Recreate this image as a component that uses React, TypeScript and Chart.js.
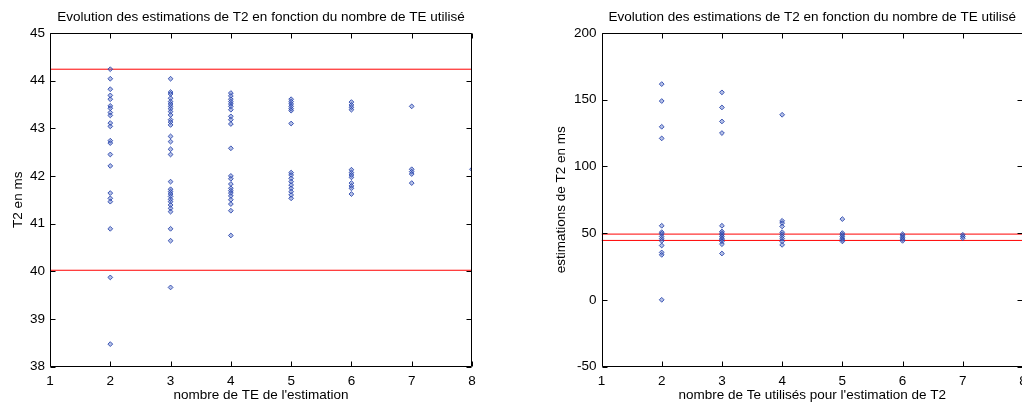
import React, { useEffect, useRef } from "react";
import { Chart, registerables } from "chart.js";

Chart.register(...registerables);

// ---------- DATA ----------
const xTicks = [1, 2, 3, 4, 5, 6, 7, 8];

// Left plot: T2 estimates (ms) per number of TE
const leftTE2 = [44.24, 44.04, 43.82, 43.69, 43.61, 43.47, 43.42, 43.33, 43.27, 43.11, 43.04, 42.74, 42.69, 42.45, 42.21, 41.64, 41.53, 41.46, 40.89, 39.87, 38.47];
const leftTE3 = [44.04, 43.76, 43.72, 43.63, 43.56, 43.51, 43.46, 43.41, 43.35, 43.28, 43.18, 43.13, 43.07, 42.83, 42.72, 42.56, 42.45, 41.88, 41.72, 41.67, 41.62, 41.57, 41.51, 41.46, 41.39, 41.32, 41.25, 40.89, 40.64, 39.66];
const leftTE4 = [43.74, 43.68, 43.61, 43.56, 43.51, 43.46, 43.39, 43.25, 43.18, 43.09, 42.58, 42.0, 41.94, 41.83, 41.74, 41.69, 41.64, 41.58, 41.5, 41.41, 41.27, 40.75];
const leftTE5 = [43.61, 43.56, 43.51, 43.46, 43.41, 43.37, 43.1, 42.07, 42.02, 41.95, 41.88, 41.81, 41.74, 41.67, 41.6, 41.53];
const leftTE6 = [43.55, 43.49, 43.44, 43.39, 42.13, 42.07, 42.02, 41.97, 41.85, 41.79, 41.74, 41.62];
const leftTE7 = [43.46, 42.14, 42.09, 42.04, 41.85];
const leftTE8 = [42.14];
const leftRefLines = [44.24, 40.02];
const leftYTicks = [38, 39, 40, 41, 42, 43, 44, 45];

// Right plot: T2 estimates (ms) per number of Te used
const rightTE2 = [161.7, 149, 129.7, 121, 55.5, 50.7, 49.5, 47.5, 45.8, 44.2, 40.7, 35.5, 33.7, 0];
const rightTE3 = [155.5, 144.2, 133.7, 125, 55.5, 51.2, 50, 48.7, 47.5, 46.2, 45, 43.8, 41.7, 34.7];
const rightTE4 = [138.7, 59.2, 57.5, 55, 50.7, 49.2, 47.5, 45.8, 43.8, 41.2];
const rightTE5 = [60.5, 50, 48.7, 47.5, 46.2, 45, 43.8];
const rightTE6 = [49.2, 48, 46.7, 45.5, 44.2];
const rightTE7 = [48.7, 47.5, 46.2];
const rightRefLines = [49.25, 44.5];
const rightYTicks = [-50, 0, 50, 100, 150, 200];

const plotTitle = "Evolution des estimations de T2 en fonction du nombre de TE utilisé";
const leftXTitle = "nombre de TE de l'estimation";
const leftYTitle = "T2 en ms";
const rightXTitle = "nombre de Te utilisés pour l'estimation de T2";
const rightYTitle = "estimations de T2 en ms";

// ---------- HELPERS ----------
const FONT = '"Liberation Sans", Arial, Helvetica, sans-serif';
const FS = 13.5;

function toPoints(groups: { te: number; values: number[] }[]) {
  const pts: { x: number; y: number }[] = [];
  groups.forEach((g) => g.values.forEach((v) => pts.push({ x: g.te, y: v })));
  return pts;
}

const framePlugin = {
  id: "matlabFrame",
  afterDraw(chart: any, _args: any, opts: any) {
    const { ctx, chartArea, scales } = chart;
    const { left, right, top, bottom } = chartArea;
    const L = Math.round(left) + 0.5;
    const R = Math.round(right) - 0.5;
    const T = Math.round(top) + 0.5;
    const B = Math.round(bottom) - 0.5;
    ctx.save();
    ctx.strokeStyle = "#000";
    ctx.lineWidth = 1;
    ctx.beginPath();
    ctx.rect(L, T, R - L, B - T);
    ctx.stroke();
    const tl = 5;
    ctx.beginPath();
    scales.x.ticks.forEach((t: any) => {
      const px = Math.round(scales.x.getPixelForValue(t.value)) + 0.5;
      ctx.moveTo(px, B);
      ctx.lineTo(px, B - tl);
      ctx.moveTo(px, T);
      ctx.lineTo(px, T + tl);
    });
    scales.y.ticks.forEach((t: any) => {
      const py = Math.round(scales.y.getPixelForValue(t.value)) + 0.5;
      ctx.moveTo(L, py);
      ctx.lineTo(L + tl, py);
      ctx.moveTo(R, py);
      ctx.lineTo(R - tl, py);
    });
    ctx.stroke();

    ctx.fillStyle = "#000";
    ctx.font = `${FS}px ${FONT}`;
    ctx.textAlign = "center";
    ctx.textBaseline = "middle";
    const cx = (left + right) / 2;
    ctx.fillText(opts.title, cx, opts.titleY);
    ctx.fillText(opts.xTitle, cx, opts.xTitleY);
    ctx.translate(opts.yTitleX, (top + bottom) / 2);
    ctx.rotate(-Math.PI / 2);
    ctx.fillText(opts.yTitle, 0, 0);
    ctx.restore();
  },
};

function buildConfig(p: {
  points: { x: number; y: number }[];
  refLines: number[];
  yTicks: number[];
  yAxisWidth: number;
  padRight: number;
  title: string;
  xTitle: string;
  yTitle: string;
  yTitleX: number;
}) {
  const yMin = p.yTicks[0];
  const yMax = p.yTicks[p.yTicks.length - 1];
  const yStep = p.yTicks[1] - p.yTicks[0];
  const xMin = xTicks[0];
  const xMax = xTicks[xTicks.length - 1];
  const lineSets = p.refLines.map((v) => ({
    type: "line" as const,
    data: [
      { x: xMin, y: v },
      { x: xMax, y: v },
    ],
    borderColor: "#ff0000",
    borderWidth: 1,
    pointRadius: 0,
    fill: false,
    order: 2,
  }));
  return {
    type: "scatter" as const,
    data: {
      datasets: [
        {
          type: "scatter" as const,
          data: p.points,
          pointStyle: "rectRot",
          pointRadius: 2.4,
          borderWidth: 1,
          borderColor: "rgba(35,65,170,0.85)",
          backgroundColor: "rgba(90,115,200,0.45)",
          order: 1,
        },
        ...lineSets,
      ],
    },
    options: {
      responsive: false,
      animation: false,
      events: [],
      layout: { padding: { left: 0, right: p.padRight, top: 33, bottom: 0 } },
      plugins: {
        legend: { display: false },
        tooltip: { enabled: false },
        title: { display: false },
        matlabFrame: {
          title: p.title,
          xTitle: p.xTitle,
          yTitle: p.yTitle,
          titleY: 17,
          xTitleY: 395,
          yTitleX: p.yTitleX,
        },
      },
      scales: {
        x: {
          type: "linear",
          min: xMin,
          max: xMax,
          grid: { display: false, drawTicks: false, tickLength: 0 },
          border: { display: false },
          ticks: {
            stepSize: 1,
            padding: 7,
            color: "#000",
            font: { family: FONT, size: FS },
            maxRotation: 0,
          },
          afterFit: (s: any) => {
            s.height = 43.5;
          },
        },
        y: {
          type: "linear",
          min: yMin,
          max: yMax,
          grid: { display: false, drawTicks: false, tickLength: 0 },
          border: { display: false },
          ticks: {
            stepSize: yStep,
            padding: 5,
            color: "#000",
            font: { family: FONT, size: FS },
          },
          afterFit: (s: any) => {
            s.width = p.yAxisWidth;
          },
        },
      },
    },
    plugins: [framePlugin],
  };
}

function ChartCanvas({ config, width, height, left }: { config: any; width: number; height: number; left: number }) {
  const ref = useRef<HTMLCanvasElement | null>(null);
  useEffect(() => {
    if (!ref.current) return;
    const chart = new Chart(ref.current, config);
    return () => chart.destroy();
  }, [config]);
  return (
    <canvas
      ref={ref}
      width={width}
      height={height}
      style={{ position: "absolute", left, top: 0, width, height }}
    />
  );
}

const leftConfig = buildConfig({
  points: toPoints([
    { te: 2, values: leftTE2 },
    { te: 3, values: leftTE3 },
    { te: 4, values: leftTE4 },
    { te: 5, values: leftTE5 },
    { te: 6, values: leftTE6 },
    { te: 7, values: leftTE7 },
    { te: 8, values: leftTE8 },
  ]),
  refLines: leftRefLines,
  yTicks: leftYTicks,
  yAxisWidth: 50,
  padRight: 39,
  title: plotTitle,
  xTitle: leftXTitle,
  yTitle: leftYTitle,
  yTitleX: 18,
});

const rightConfig = buildConfig({
  points: toPoints([
    { te: 2, values: rightTE2 },
    { te: 3, values: rightTE3 },
    { te: 4, values: rightTE4 },
    { te: 5, values: rightTE5 },
    { te: 6, values: rightTE6 },
    { te: 7, values: rightTE7 },
  ]),
  refLines: rightRefLines,
  yTicks: rightYTicks,
  yAxisWidth: 90.5,
  padRight: 18,
  title: plotTitle,
  xTitle: rightXTitle,
  yTitle: rightYTitle,
  yTitleX: 50,
});

export default function App() {
  return (
    <div
      style={{
        position: "fixed",
        left: 0,
        top: 0,
        width: 1022,
        height: 410,
        overflow: "hidden",
        background: "#fff",
      }}
    >
      <ChartCanvas config={leftConfig} width={511} height={410} left={0} />
      <ChartCanvas config={rightConfig} width={530} height={410} left={511} />
    </div>
  );
}
